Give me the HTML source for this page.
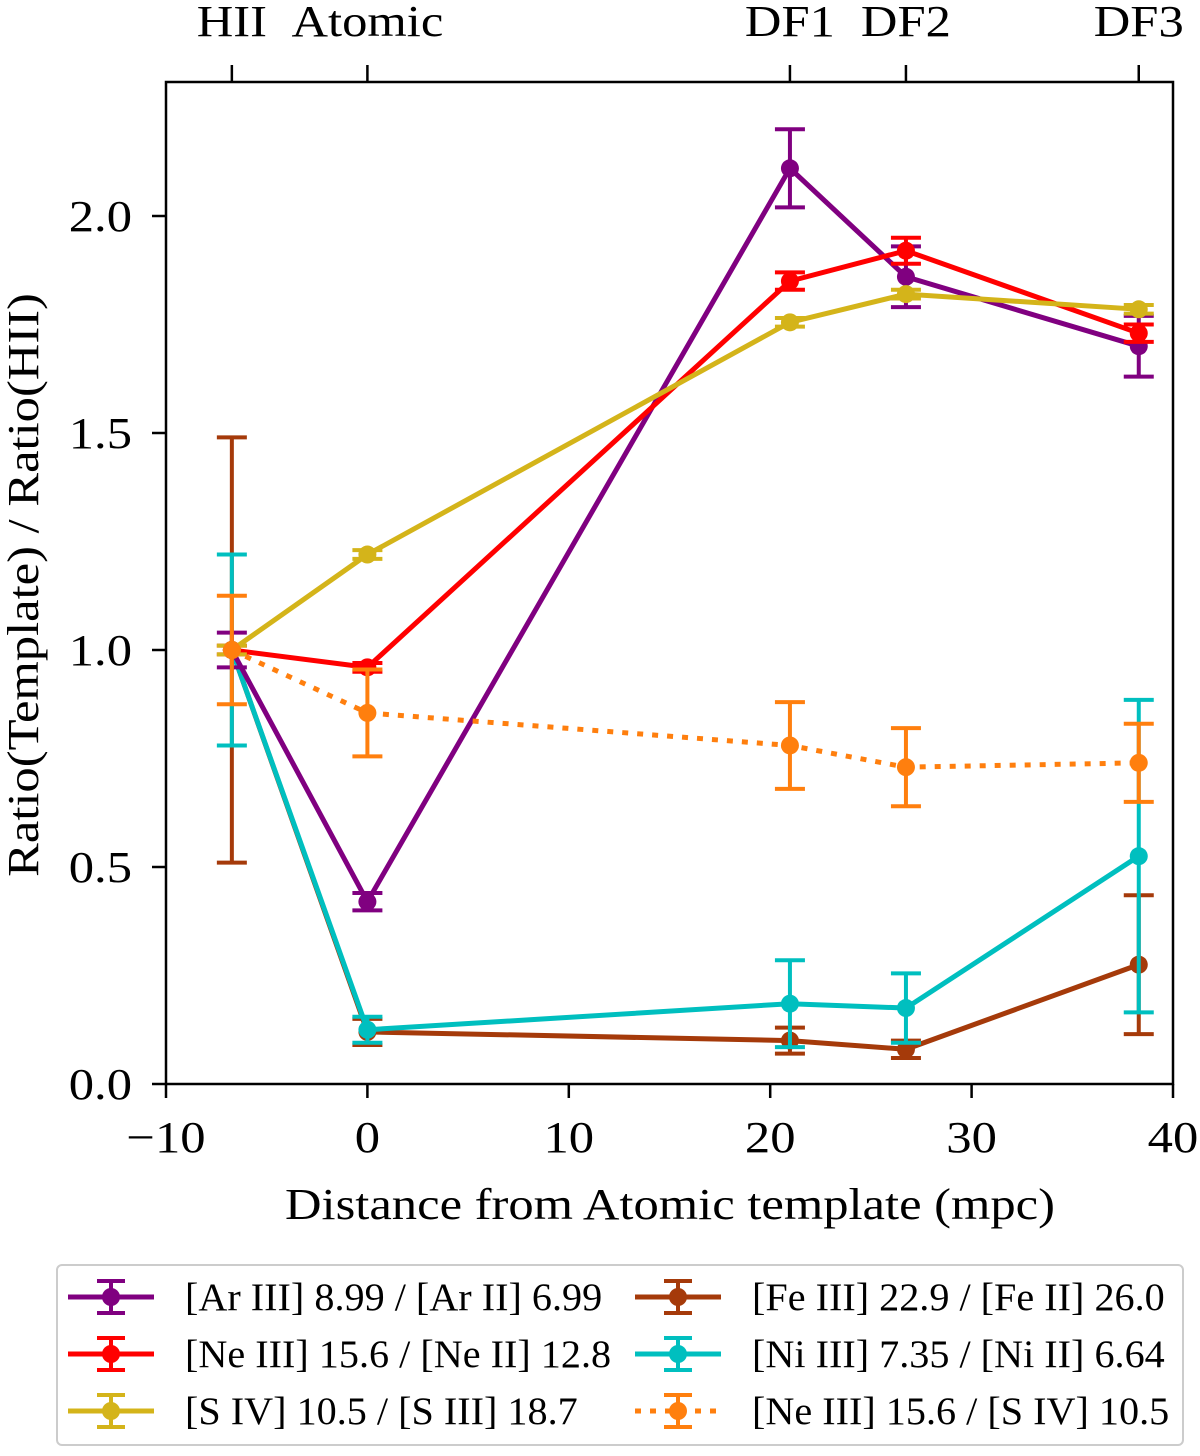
<!DOCTYPE html>
<html><head><meta charset="utf-8"><style>body{margin:0;background:#fff}svg text{font-family:"Liberation Serif",serif;fill:#000}</style></head>
<body>
<svg id="c" width="1200" height="1451" xmlns="http://www.w3.org/2000/svg"></svg>
<script>
const xPos=[-6.73,0,20.98,26.74,38.3];
const topLabels=["HII","Atomic","DF1","DF2","DF3"];
const xTicks=[-10,0,10,20,30,40];
const yTicks=[0.0,0.5,1.0,1.5,2.0];
const arVals=[1.0,0.42,2.11,1.86,1.70];
const arErr=[0.04,0.02,0.09,0.07,0.07];
const neVals=[1.0,0.96,1.85,1.92,1.73];
const neErr=[0.01,0.01,0.02,0.03,0.02];
const sVals=[1.0,1.22,1.755,1.82,1.785];
const sErr=[0.01,0.01,0.01,0.01,0.01];
const feVals=[1.0,0.12,0.10,0.08,0.275];
const feErr=[0.49,0.03,0.03,0.02,0.16];
const niVals=[1.0,0.125,0.185,0.175,0.525];
const niErr=[0.22,0.03,0.10,0.08,0.36];
const nesVals=[1.0,0.855,0.78,0.73,0.74];
const nesErr=[0.125,0.10,0.10,0.09,0.09];
const series=[
 {n:"ar-iii-ar-ii",l:"[Ar III] 8.99 / [Ar II] 6.99",c:"#800080",v:arVals,e:arErr,d:false},
 {n:"ne-iii-ne-ii",l:"[Ne III] 15.6 / [Ne II] 12.8",c:"#ff0000",v:neVals,e:neErr,d:false},
 {n:"s-iv-s-iii",l:"[S IV] 10.5 / [S III] 18.7",c:"#d4b41a",v:sVals,e:sErr,d:false},
 {n:"fe-iii-fe-ii",l:"[Fe III] 22.9 / [Fe II] 26.0",c:"#a53a0a",v:feVals,e:feErr,d:false},
 {n:"ni-iii-ni-ii",l:"[Ni III] 7.35 / [Ni II] 6.64",c:"#00bfbf",v:niVals,e:niErr,d:false},
 {n:"ne-iii-s-iv",l:"[Ne III] 15.6 / [S IV] 10.5",c:"#ff7f0e",v:nesVals,e:nesErr,d:true}];
const drawOrder=[3,4,0,1,2,5];
const L=166,R=1173,T=82,B=1084;
const X=v=>L+(v+10)/50*(R-L);
const Y=v=>B-v/2.0*(B-216);
const svg=document.getElementById('c');
function el(t,a,txt,p){const e=document.createElementNS("http://www.w3.org/2000/svg",t);for(const k in a)e.setAttribute(k,a[k]);if(txt!=null)e.textContent=txt;(p||svg).appendChild(e);return e;}
function stretch(e,f){const w=e.getComputedTextLength();e.setAttribute('textLength',w*f);e.setAttribute('lengthAdjust','spacingAndGlyphs');}
let e=el('rect',{x:L,y:T,width:R-L,height:B-T,fill:'none',stroke:'#000','stroke-width':2.5});


xTicks.forEach(t=>{el('line',{x1:X(t),x2:X(t),y1:B,y2:B+14,stroke:'#000','stroke-width':2.5});
 e=el('text',{x:X(t),y:B+68,'font-size':44,'text-anchor':'middle'},t<0?'\u2212'+(-t):String(t));
 
 stretch(e,1.15);});
yTicks.forEach(t=>{el('line',{x1:L-14,x2:L,y1:Y(t),y2:Y(t),stroke:'#000','stroke-width':2.5});
 e=el('text',{x:L-34,y:Y(t)+15,'font-size':44,'text-anchor':'end'},t.toFixed(1));
 
 stretch(e,1.15);});
xPos.forEach((p,i)=>{el('line',{x1:X(p),x2:X(p),y1:T-17,y2:T,stroke:'#000','stroke-width':2.5});
 e=el('text',{x:X(p),y:36,'font-size':44,'text-anchor':'middle'},topLabels[i]);
 
 stretch(e,1.15);});
e=el('text',{x:670,y:1219,'font-size':44,'text-anchor':'middle'},'Distance from Atomic template (mpc)');

stretch(e,1.15);
e=el('text',{x:0,y:0,'font-size':44,'text-anchor':'middle',transform:'translate(38,585) rotate(-90)'},'Ratio(Template) / Ratio(HII)');

stretch(e,1.15);
drawOrder.forEach(k=>{const s=series[k];const g=el('g',{});
 
 
 el('polyline',{points:s.v.map((v,i)=>X(xPos[i])+','+Y(v)).join(' '),fill:'none',stroke:s.c,'stroke-width':5,'stroke-dasharray':s.d?'6,9':'none'},null,g);
 s.v.forEach((v,i)=>{const x=X(xPos[i]);
  el('line',{x1:x,x2:x,y1:Y(v-s.e[i]),y2:Y(v+s.e[i]),stroke:s.c,'stroke-width':4},null,g);
  [v-s.e[i],v+s.e[i]].forEach(w=>el('line',{x1:x-15,x2:x+15,y1:Y(w),y2:Y(w),stroke:s.c,'stroke-width':4},null,g));
  const m=el('circle',{cx:x,cy:Y(v),r:9,fill:s.c},null,g);
  
  });});
e=el('rect',{x:57,y:1265,width:1126,height:180,fill:'#fff',stroke:'#ccc','stroke-width':2,rx:5});


series.forEach((s,i)=>{const col=Math.floor(i/3),row=i%3;const x0=col?635:68,y=1297+row*57;
 const g=el('g',{});
 
 
 el('line',{x1:x0,x2:x0+86,y1:y,y2:y,stroke:s.c,'stroke-width':5,'stroke-dasharray':s.d?'6,9':'none'},null,g);
 el('line',{x1:x0+43,x2:x0+43,y1:y-16,y2:y+16,stroke:s.c,'stroke-width':4},null,g);
 el('line',{x1:x0+29,x2:x0+57,y1:y-16,y2:y-16,stroke:s.c,'stroke-width':4},null,g);
 el('line',{x1:x0+29,x2:x0+57,y1:y+16,y2:y+16,stroke:s.c,'stroke-width':4},null,g);
 el('circle',{cx:x0+43,cy:y,r:9,fill:s.c},null,g);
 const t=el('text',{x:x0+117,y:y+13,'font-size':39},s.l,g);stretch(t,1.03);});
</script>
</body></html>
